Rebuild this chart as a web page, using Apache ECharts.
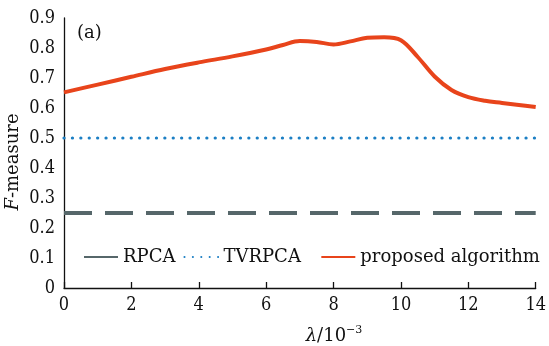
<!DOCTYPE html>
<html>
<head>
<meta charset="utf-8">
<script src="https://cdn.jsdelivr.net/npm/echarts@6/dist/echarts.min.js"></script>
<style>html,body{margin:0;padding:0;background:#fff;}#c{width:549px;height:346px;}</style>
</head>
<body>
<div id="c"></div>
<script>
const lambdaVals = [0, 1, 2, 3, 4, 5, 6, 6.5, 7, 7.5, 8, 8.5, 9, 9.5, 10, 10.5, 11, 11.5, 12, 12.5, 13, 13.5, 14];
const proposed   = [0.652, 0.678, 0.704, 0.73, 0.752, 0.772, 0.795, 0.81, 0.823, 0.82, 0.812, 0.822, 0.834, 0.836, 0.826, 0.77, 0.705, 0.66, 0.636, 0.624, 0.617, 0.61, 0.603];
const rpcaX = [0, 14];
const rpca  = [0.25, 0.25];
const tvrpcaX = [0, 14];
const tvrpca  = [0.5, 0.5];
const seriesNames = ['RPCA', 'TVRPCA', 'proposed algorithm'];
const xTicks = [0, 2, 4, 6, 8, 10, 12, 14];
const yTicks = [0, 0.1, 0.2, 0.3, 0.4, 0.5, 0.6, 0.7, 0.8, 0.9];

const FONT = '"DejaVu Serif", serif';
const FONTC = '"DejaVu Serif Condensed", "DejaVu Serif", serif';
const pairs = (xs, ys) => xs.map((x, i) => [x, ys[i]]);

const chart = echarts.init(document.getElementById('c'), null, {renderer: 'canvas'});
chart.setOption({
  backgroundColor: '#fff',
  animation: false,
  grid: {left: 64, right: 13, top: 18, bottom: 58, containLabel: false},
  xAxis: {
    type: 'value', min: xTicks[0], max: xTicks[xTicks.length - 1], interval: 2,
    axisLine: {show: true, lineStyle: {color: '#111', width: 1.3}},
    axisTick: {show: true, inside: true, length: 6, lineStyle: {color: '#111', width: 1.3}},
    axisLabel: {fontFamily: FONTC, fontSize: 18, color: '#111', margin: 8},
    splitLine: {show: false}
  },
  yAxis: {
    type: 'value', min: yTicks[0], max: yTicks[yTicks.length - 1], interval: 0.1,
    axisLine: {show: true, lineStyle: {color: '#111', width: 1.3}},
    axisTick: {show: false},
    axisLabel: {fontFamily: FONTC, fontSize: 18, color: '#111', margin: 9,
      formatter: v => (Math.round(v * 10) / 10).toString()},
    splitLine: {show: false}
  },
  legend: {
    left: 78, top: 243, itemWidth: 34, itemHeight: 14, itemGap: 8,
    textStyle: {fontFamily: FONT, fontSize: 18, color: '#111'},
    itemStyle: {color: 'rgba(0,0,0,0)', borderWidth: 0, opacity: 0},
    formatter: name => name === seriesNames[1] ? name + '  ' : name,
    data: [
      {name: seriesNames[0], lineStyle: {type: 'solid'}},
      {name: seriesNames[1]},
      {name: seriesNames[2]}
    ]
  },
  graphic: [
    {type: 'text', left: 77, top: 24, style: {text: '(a)', font: '18px ' + FONT, fill: '#111'}},
    {type: 'text', x: 13, y: 162, rotation: Math.PI / 2,
      style: {text: '{i|F}{n|-measure}', align: 'center', verticalAlign: 'middle',
        rich: {i: {fontFamily: FONT, fontSize: 18, fontStyle: 'italic', fill: '#111'},
               n: {fontFamily: FONT, fontSize: 18, fill: '#111'}}}},
    {type: 'text', x: 334, y: 335,
      style: {text: '{i|λ}{n|/10}{s|−3}', align: 'center', verticalAlign: 'middle',
        rich: {i: {fontFamily: FONT, fontSize: 18, fontStyle: 'italic', fill: '#111', verticalAlign: 'bottom'},
               n: {fontFamily: FONT, fontSize: 18, fill: '#111', verticalAlign: 'bottom'},
               s: {fontFamily: FONT, fontSize: 11, fill: '#111', verticalAlign: 'bottom', padding: [0, 0, 9, 0]}}}}
  ],
  series: [
    {name: seriesNames[0], type: 'line', data: pairs(rpcaX, rpca), symbol: 'none',
      color: '#56676a',
      lineStyle: {color: '#56676a', width: 4.2, type: [28, 13]}},
    {name: seriesNames[1], type: 'line', data: pairs(tvrpcaX, tvrpca), symbol: 'none',
      color: '#1c7fc4',
      lineStyle: {color: '#1c7fc4', width: 3.2, type: [0.1, 8.3], cap: 'round'}},
    {name: seriesNames[2], type: 'line', data: pairs(lambdaVals, proposed), symbol: 'none',
      smooth: 0.35, color: '#e8441b',
      lineStyle: {color: '#e8441b', width: 4}}
  ]
});
</script>
</body>
</html>
